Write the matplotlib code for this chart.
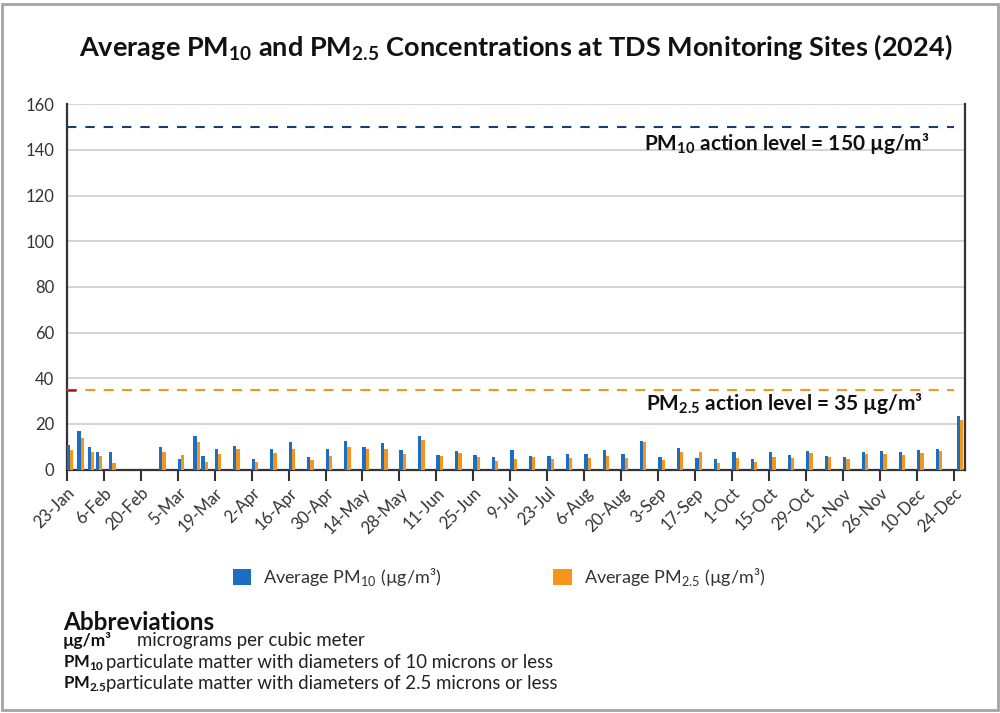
import matplotlib
matplotlib.use('Agg')
import matplotlib.pyplot as plt
import pandas as pd
from matplotlib.patches import Rectangle

plt.rcParams['font.family'] = ['Lato', 'DejaVu Sans']
plt.rcParams['mathtext.fontset'] = 'custom'
plt.rcParams['mathtext.rm'] = 'Lato'
plt.rcParams['mathtext.bf'] = 'Lato:bold'

# sampling dates (2024) and weekly averages, ug/m3
sample_dates = [
    '2024-01-23', '2024-01-27', '2024-01-31', '2024-02-03', '2024-02-08',
    '2024-02-27', '2024-03-05', '2024-03-11', '2024-03-14', '2024-03-19',
    '2024-03-26', '2024-04-02', '2024-04-09', '2024-04-16', '2024-04-23',
    '2024-04-30', '2024-05-07', '2024-05-14', '2024-05-21', '2024-05-28',
    '2024-06-04', '2024-06-11', '2024-06-18', '2024-06-25', '2024-07-02',
    '2024-07-09', '2024-07-16', '2024-07-23', '2024-07-30', '2024-08-06',
    '2024-08-13', '2024-08-20', '2024-08-27', '2024-09-03', '2024-09-10',
    '2024-09-17', '2024-09-24', '2024-10-01', '2024-10-08', '2024-10-15',
    '2024-10-22', '2024-10-29', '2024-11-05', '2024-11-12', '2024-11-19',
    '2024-11-26', '2024-12-03', '2024-12-10', '2024-12-17', '2024-12-25',
]
pm10 = [10.7, 16.8, 10.0, 7.8, 7.8, 9.7, 4.6, 14.5, 6.0, 8.8,
        10.4, 4.6, 9.1, 11.9, 5.5, 9.0, 12.5, 9.8, 11.6, 8.7,
        14.8, 6.3, 8.2, 6.2, 5.5, 8.4, 6.0, 5.9, 6.9, 6.9,
        8.5, 6.8, 12.5, 5.3, 9.4, 5.0, 4.4, 7.5, 4.7, 7.7,
        6.2, 8.1, 6.0, 5.3, 7.7, 8.2, 7.8, 8.7, 9.0, 23.5]
pm25 = [8.5, 13.8, 7.8, 5.8, 2.7, 7.5, 6.3, 11.9, 3.4, 6.8,
        8.8, 3.4, 7.2, 8.8, 4.2, 5.9, 9.8, 9.1, 9.0, 6.8,
        12.8, 5.9, 7.2, 5.5, 3.9, 4.5, 5.6, 4.7, 4.9, 4.9,
        5.9, 4.9, 12.0, 4.3, 7.5, 7.7, 2.7, 4.9, 3.4, 5.5,
        4.9, 7.1, 5.3, 4.6, 6.6, 6.9, 6.3, 7.3, 8.1, 21.9]

tick_labels = ['23-Jan', '6-Feb', '20-Feb', '5-Mar', '19-Mar', '2-Apr', '16-Apr',
               '30-Apr', '14-May', '28-May', '11-Jun', '25-Jun', '9-Jul', '23-Jul',
               '6-Aug', '20-Aug', '3-Sep', '17-Sep', '1-Oct', '15-Oct', '29-Oct',
               '12-Nov', '26-Nov', '10-Dec', '24-Dec']

PM10_LEVEL = 150
PM25_LEVEL = 35

BLUE = '#1b6ec2'
ORANGE = '#f7941d'
NAVY = '#1d3c6e'
RED = '#b5121b'

dates = pd.to_datetime(sample_dates)
tick_pos = pd.to_datetime([t + '-2024' for t in tick_labels], format='%d-%b-%Y')
x_start = pd.Timestamp('2024-01-23')
x_end = pd.Timestamp('2024-12-28')
bar_w = 1.25  # days

fig = plt.figure(figsize=(10, 7.13), dpi=100)
ax = fig.add_axes([0.0667, 0.3415, 0.8979, 0.5122])

b1 = ax.bar(dates, pm10, width=bar_w, align='edge', color=BLUE, zorder=3)
b2 = ax.bar(dates + pd.Timedelta(hours=30), pm25, width=bar_w, align='edge',
            color=ORANGE, zorder=3)

# action levels
ax.plot([x_start, tick_pos[-1]], [PM10_LEVEL, PM10_LEVEL], color=NAVY, lw=1.5,
        ls=(0, (4.5, 4.3)), zorder=4)
ax.plot([x_start, tick_pos[-1]], [PM25_LEVEL, PM25_LEVEL], color=ORANGE, lw=1.5,
        ls=(0, (4.8, 4.0)), zorder=4)
ax.plot([x_start, x_start + pd.Timedelta(days=3.4)], [PM25_LEVEL, PM25_LEVEL],
        color=RED, lw=1.8, zorder=5, solid_capstyle='butt')

ax.text(0.802, 142.7, r'PM$_{\mathbf{10}}$ action level = 150 µg/m³',
        transform=ax.get_yaxis_transform(), ha='center', va='center',
        fontsize=15, weight='bold', color='#111111')
ax.text(0.799, 29.1, r'PM$_{\mathbf{2.5}}$ action level = 35 µg/m³',
        transform=ax.get_yaxis_transform(), ha='center', va='center',
        fontsize=15, weight='bold', color='#111111')

ax.set_xlim(x_start, x_end)
ax.set_ylim(0, 160)
ax.set_yticks(range(0, 161, 20))
ax.grid(axis='y', color='#c8c8c8', lw=1.1, zorder=0)
ax.set_axisbelow(True)

ax.set_xticks(tick_pos)
ax.set_xticklabels(tick_labels, rotation=45, ha='right', va='top',
                   rotation_mode='anchor')
ax.tick_params(axis='x', length=8, width=1.5, color='#333333', labelsize=12,
               labelcolor='#333333', pad=3)
ax.tick_params(axis='y', length=0, pad=9, labelsize=12, labelcolor='#333333')

for side in ['left', 'right', 'bottom']:
    ax.spines[side].set_color('#333333')
    ax.spines[side].set_linewidth(1.6)
ax.spines['top'].set_visible(False)

fig.text(0.5155, 0.934,
         r'Average PM$_{\mathbf{10}}$ and PM$_{\mathbf{2.5}}$ Concentrations at TDS Monitoring Sites (2024)',
         ha='center', va='center', fontsize=19.5, weight='bold', color='#111111')

fig.legend([b1, b2], [r'Average PM$_{10}$ (µg/m³)', r'Average PM$_{2.5}$ (µg/m³)'],
           loc='center', bbox_to_anchor=(0.499, 0.1907), ncol=2, frameon=False,
           fontsize=13, handlelength=1.0, handleheight=1.0, handletextpad=0.7,
           columnspacing=6.2, labelcolor='#333333')

fig.text(0.063, 0.1276, 'Abbreviations', fontsize=17.5, weight='bold',
         va='center', color='#111111')
fig.text(0.063, 0.101, 'µg/m³', fontsize=12.5, weight='bold', va='center',
         color='#111111')
fig.text(0.137, 0.101, 'micrograms per cubic meter', fontsize=13.4,
         va='center', color='#222222')
fig.text(0.063, 0.0705, r'PM$_{\mathbf{10}}$', fontsize=12, weight='bold',
         va='center', color='#111111')
fig.text(0.106, 0.0705, 'particulate matter with diameters of 10 microns or less',
         fontsize=13.4, va='center', color='#222222')
fig.text(0.063, 0.041, r'PM$_{\mathbf{2.5}}$', fontsize=12, weight='bold',
         va='center', color='#111111')
fig.text(0.106, 0.041, 'particulate matter with diameters of 2.5 microns or less',
         fontsize=13.4, va='center', color='#222222')

fig.add_artist(Rectangle((0.0015, 0.0042), 0.996, 0.9906, transform=fig.transFigure,
                         fill=False, edgecolor='#a3a3a8', lw=2))

fig.savefig('out.png', dpi=100)
